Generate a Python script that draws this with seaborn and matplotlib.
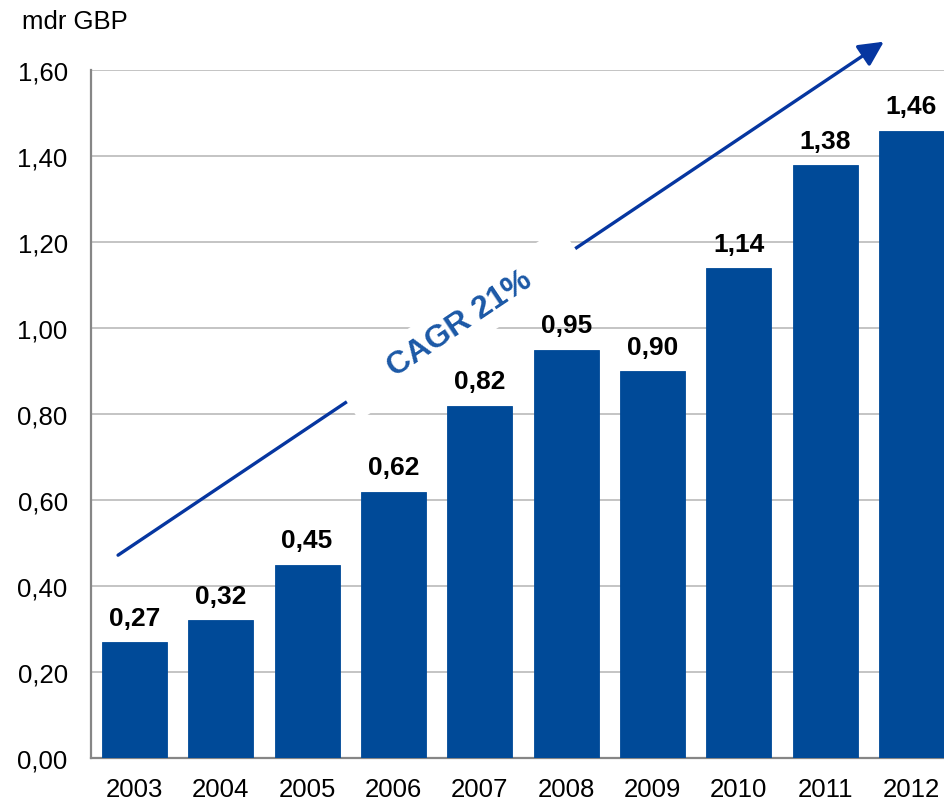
import matplotlib
matplotlib.use("Agg")
import matplotlib.pyplot as plt
from matplotlib.ticker import FuncFormatter, MultipleLocator
import seaborn as sns
import pandas as pd

# Revenue by year, bn GBP
years = ["2003", "2004", "2005", "2006", "2007", "2008", "2009", "2010", "2011", "2012"]
revenue = [0.27, 0.32, 0.45, 0.62, 0.82, 0.95, 0.90, 1.14, 1.38, 1.46]
unit_label = "mdr GBP"
cagr_label = "CAGR 21%"

BAR_BLUE = "#004A98"
ARROW_BLUE = "#0636A0"
TEXT_BLUE = "#1B58A6"

sns.set_theme(style="white")
plt.rcParams["font.family"] = ["Liberation Sans", "DejaVu Sans"]
plt.rcParams["text.color"] = "black"

df = pd.DataFrame({"year": years, "revenue": revenue})

fig = plt.figure(figsize=(9.45, 8.03), dpi=100)
ax = fig.add_axes([0.0966, 0.0548, 0.9136, 0.8562])

sns.barplot(data=df, x="year", y="revenue", color=BAR_BLUE, saturation=1,
            width=0.75, ax=ax, zorder=3, edgecolor=BAR_BLUE, linewidth=0.6)

ax.set_xlim(-0.5, 9.5)
ax.set_ylim(0, 1.6)
ax.yaxis.set_major_locator(MultipleLocator(0.2))
ax.yaxis.set_major_formatter(FuncFormatter(lambda v, _: f"{v:.2f}".replace(".", ",")))
ax.set_xlabel("")
ax.set_ylabel("")

ax.set_axisbelow(True)
ax.grid(axis="y", color="#C4C4C4", linewidth=1.4)
ax.grid(axis="x", visible=False)
for side in ("top", "right"):
    ax.spines[side].set_visible(False)
for side in ("left", "bottom"):
    ax.spines[side].set_color("#868686")
    ax.spines[side].set_linewidth(1.6)

ax.tick_params(axis="both", length=0, labelsize=18.5, colors="black")
ax.tick_params(axis="y", pad=17)
ax.tick_params(axis="x", pad=14)

# Value labels above each bar
for i, v in enumerate(revenue):
    ax.annotate(f"{v:.2f}".replace(".", ","), xy=(i, v), xytext=(0, 12.5),
                textcoords="offset points", ha="center", va="baseline",
                fontsize=19, fontweight="bold", color="black", zorder=5)

# Growth arrow with CAGR label
ax.annotate("", xy=(8.68, 1.667), xytext=(-0.19, 0.472),
            xycoords="data", textcoords="data", annotation_clip=False,
            arrowprops=dict(arrowstyle="-|>,head_length=1.0,head_width=0.5",
                            mutation_scale=15, lw=2.4, color=ARROW_BLUE,
                            shrinkA=0, shrinkB=0), zorder=4)

ax.text(3.77, 1.011, "     " + cagr_label + "     ", rotation=33.8,
        rotation_mode="anchor", ha="center", va="center",
        fontsize=23, fontweight="bold", color=TEXT_BLUE, zorder=4.5,
        bbox=dict(boxstyle="square,pad=0.3", facecolor="white", edgecolor="none"))

fig.text(0.0233, 0.9639, unit_label, fontsize=18.5, ha="left", va="baseline")

fig.savefig("out.png", dpi=100)
